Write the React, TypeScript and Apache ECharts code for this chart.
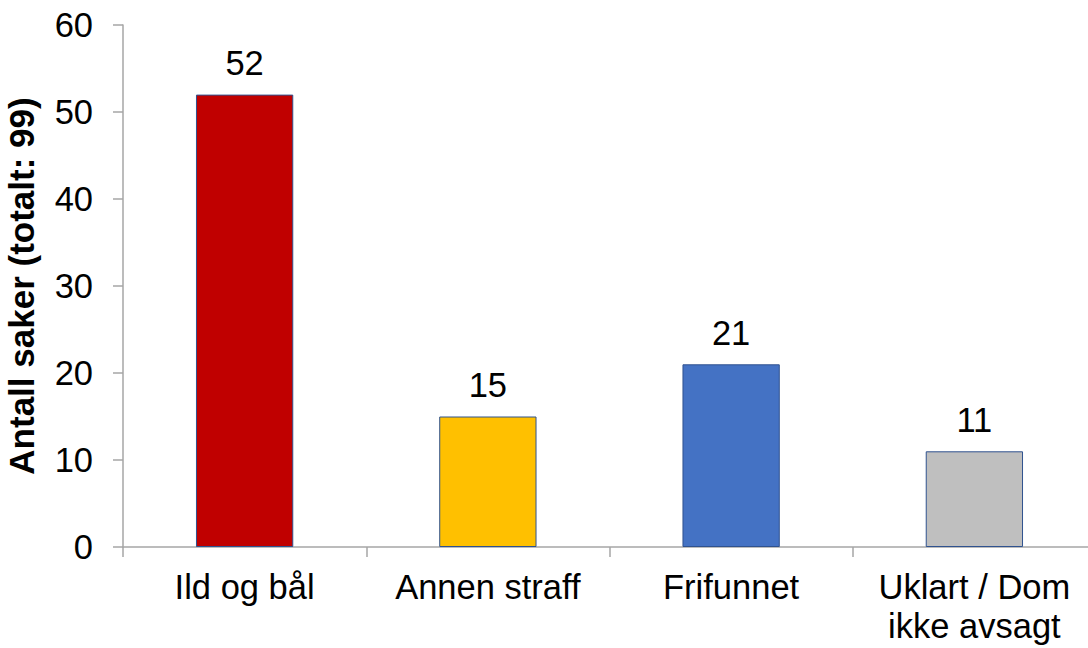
import React, { useEffect, useRef } from "react";
import * as echarts from "echarts";

const categories = ["Ild og bål", "Annen straff", "Frifunnet", "Uklart / Dom\nikke avsagt"];
const values = [52, 15, 21, 11];
const colors = ["#C00000", "#FFC000", "#4472C4", "#BFBFBF"];
const yTitle = "Antall saker (totalt: 99)";

const FONT = '"Liberation Sans", Arial, sans-serif';

export default function App() {
  const ref = useRef<HTMLDivElement>(null);
  useEffect(() => {
    if (!ref.current) return;
    const chart = echarts.init(ref.current, undefined, { renderer: "svg" });
    chart.setOption({
      animation: false,
      backgroundColor: "#ffffff",
      textStyle: { fontFamily: FONT },
      grid: {
        left: 123,
        top: 25,
        width: 973,
        height: 522,
        containLabel: false,
        outerBoundsMode: "none",
      },
      xAxis: {
        type: "category",
        data: categories,
        axisLine: { show: true, lineStyle: { color: "#A6A6A6", width: 1.5 } },
        axisTick: { show: true, length: 10, lineStyle: { color: "#A6A6A6", width: 1.5 } },
        axisLabel: {
          color: "#000000",
          fontSize: 34.5,
          fontFamily: FONT,
          margin: 20,
          lineHeight: 39,
          interval: 0,
        },
      },
      yAxis: {
        type: "value",
        min: 0,
        max: 60,
        interval: 10,
        name: yTitle,
        nameLocation: "middle",
        nameGap: 84,
        nameRotate: 90,
        nameTextStyle: { color: "#000000", fontSize: 35, fontWeight: "bold", fontFamily: FONT },
        splitLine: { show: false },
        axisLine: { show: true, lineStyle: { color: "#A6A6A6", width: 1.5 } },
        axisTick: { show: true, length: 10, lineStyle: { color: "#A6A6A6", width: 1.5 } },
        axisLabel: { color: "#000000", fontSize: 34.5, fontFamily: FONT, margin: 30 },
      },
      series: [
        {
          type: "bar",
          barWidth: "40%",
          data: values.map((v, i) => ({
            value: v,
            itemStyle: { color: colors[i], borderColor: "#2F528F", borderWidth: 1 },
          })),
          label: {
            show: true,
            position: "top",
            distance: 14,
            color: "#000000",
            fontSize: 34.5,
            fontFamily: FONT,
          },
        },
      ],
    });
    return () => chart.dispose();
  }, []);
  return (
    <div
      ref={ref}
      style={{ position: "absolute", left: 0, top: 0, width: 1088, height: 648, overflow: "hidden" }}
    />
  );
}
